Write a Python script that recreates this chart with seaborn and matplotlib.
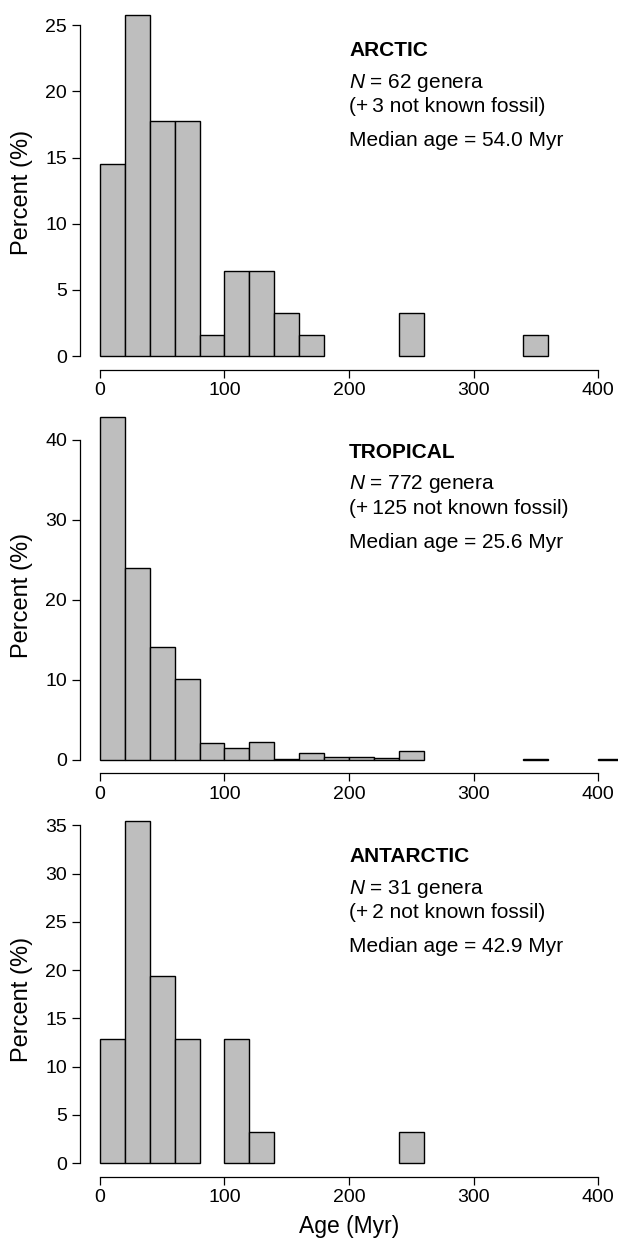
import numpy as np
import pandas as pd
import matplotlib
matplotlib.use("Agg")
import matplotlib.pyplot as plt
import seaborn as sns

# ---- data ----
regions = ["ARCTIC", "TROPICAL", "ANTARCTIC"]
n_genera = [62, 772, 31]
n_not_fossil = [3, 125, 2]
median_age = [54.0, 25.6, 42.9]

arctic_bin_left = [0, 20, 40, 60, 80, 100, 120, 140, 160, 240, 340]
arctic_counts = [9, 16, 11, 11, 1, 4, 4, 2, 1, 2, 1]

tropical_bin_left = [0, 20, 40, 60, 80, 100, 120, 140, 160, 180, 200, 220, 240, 340, 400]
tropical_counts = [331, 185, 109, 78, 16, 11, 17, 1, 6, 3, 3, 2, 8, 1, 1]

antarctic_bin_left = [0, 20, 40, 60, 100, 120, 240]
antarctic_counts = [4, 11, 6, 4, 4, 1, 1]

y_ticks = [[0, 5, 10, 15, 20, 25], [0, 10, 20, 30, 40], [0, 5, 10, 15, 20, 25, 30, 35]]
x_ticks = [0, 100, 200, 300, 400]
bin_width = 20

bin_lefts = [arctic_bin_left, tropical_bin_left, antarctic_bin_left]
counts = [arctic_counts, tropical_counts, antarctic_counts]

# ---- style ----
sns.set_style("ticks")
plt.rcParams["font.family"] = ["Liberation Sans", "DejaVu Sans"]
plt.rcParams["mathtext.fontset"] = "custom"
plt.rcParams["mathtext.rm"] = "Liberation Sans"
plt.rcParams["mathtext.it"] = "Liberation Sans:italic"
plt.rcParams["mathtext.bf"] = "Liberation Sans:bold"
plt.rcParams["text.color"] = "black"
plt.rcParams["axes.labelcolor"] = "black"

W, H = 619, 1242
fig = plt.figure(figsize=(W / 100, H / 100), dpi=100)

# axes placement in pixels (left, top, right, bottom)
panel_px = [(80, 1.0, 618, 369.7), (80, 402.9, 618, 773.4), (80, 807.0, 618, 1176.7)]

for i in range(3):
    l, t, r, b = panel_px[i]
    ax = fig.add_axes([l / W, 1 - b / H, (r - l) / W, (b - t) / H])
    lefts = np.array(bin_lefts[i], dtype=float)
    pct = np.array(counts[i], dtype=float) / n_genera[i] * 100
    df = pd.DataFrame({"age": lefts + bin_width / 2, "pct": pct})
    sns.histplot(data=df, x="age", weights="pct", binwidth=bin_width,
                 binrange=(0, 420), stat="count",
                 color="#bebebe", edgecolor="black", linewidth=1.0, alpha=1.0,
                 ax=ax)
    # remove empty bins (R hist-style display without zero bars)
    for p in list(ax.patches):
        if p.get_height() <= 0:
            p.remove()

    ymax = max(pct)
    ax.set_xlim(-16, 416)
    ax.set_ylim(-0.04 * ymax, ymax * 1.04)
    ax.set_yticks(y_ticks[i])
    ax.set_xticks(x_ticks)
    ax.spines["top"].set_visible(False)
    ax.spines["right"].set_visible(False)
    ax.spines["left"].set_bounds(0, y_ticks[i][-1])
    ax.spines["bottom"].set_bounds(0, 400)
    for s in ["left", "bottom"]:
        ax.spines[s].set_linewidth(0.9)
        ax.spines[s].set_color("black")
    ax.tick_params(axis="both", direction="out", length=5.8, width=0.9,
                   color="black", labelsize=14, labelcolor="black")
    ax.tick_params(axis="y", pad=3.5)
    ax.tick_params(axis="x", pad=3)
    ax.set_ylabel("Percent (%)", fontsize=17, color="black")
    ax.yaxis.set_label_coords(-0.088, 0.48)
    if i == 2:
        ax.set_xlabel("Age (Myr)", fontsize=16.5, labelpad=6.5, color="black")
    else:
        ax.set_xlabel("")

    # annotations, positioned in pixels from axes top
    ph = b - t
    def yfrac(px):
        return 1 - px / ph
    tx = 200
    kw = dict(transform=ax.get_xaxis_transform(), fontsize=15, ha="left",
              va="baseline", color="black")
    ax.text(tx, yfrac(55), regions[i], fontweight="bold", **kw)
    ax.text(tx, yfrac(86.5), f"$N$ = {n_genera[i]} genera", **kw)
    ax.text(tx, yfrac(111.5), f"(+\u2009{n_not_fossil[i]} not known fossil)", **kw)
    ax.text(tx, yfrac(145), f"Median age = {median_age[i]:.1f} Myr", **kw)

fig.savefig("out.png", dpi=100)
